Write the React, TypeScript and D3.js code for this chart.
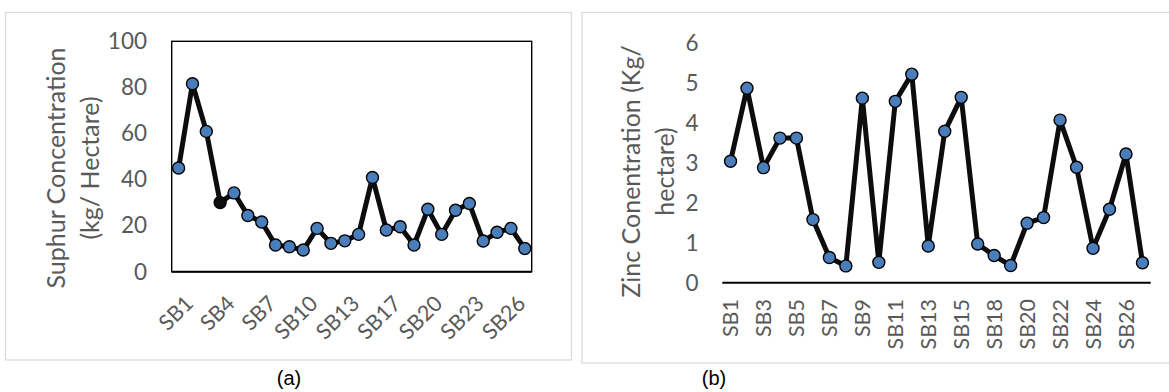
import { useMemo } from "react";
import { line, scaleBand, scaleLinear } from "d3";

const WIDTH = 1169;
const HEIGHT = 392;

const SITES = [
  "SB1", "SB2", "SB3", "SB4", "SB5", "SB6", "SB7", "SB8", "SB9", "SB10", "SB11", "SB12", "SB13",
  "SB14", "SB15", "SB17", "SB18", "SB19", "SB20", "SB21", "SB22", "SB23", "SB24", "SB25", "SB26", "SB27",
];

const SULPHUR = [
  45, 81.6, 60.9, 30, 34.2, 24.4, 21.6, 11.6, 10.8, 9.4, 18.8, 12.3, 13.4,
  16.2, 40.9, 18.1, 19.5, 11.6, 27.1, 16.2, 26.7, 29.6, 13.3, 17.1, 18.8, 10.1,
];

const ZINC = [
  3.04, 4.87, 2.88, 3.62, 3.62, 1.58, 0.63, 0.42, 4.62, 0.51, 4.54, 5.22, 0.92,
  3.79, 4.64, 0.97, 0.68, 0.43, 1.49, 1.63, 4.07, 2.89, 0.86, 1.84, 3.22, 0.5,
];

const SULPHUR_TICKS = [0, 20, 40, 60, 80, 100];
const ZINC_TICKS = [0, 1, 2, 3, 4, 5, 6];

const FONT = "Lato, 'Open Sans', sans-serif";
const GREY = "#595959";
const LINE_COLOR = "#0d0d0d";
const MARKER_FILL = "#4a7ebb";

export default function App() {
  const leftX = useMemo(() => scaleBand().domain(SITES).range([171.7, 531.7]), []);
  const leftY = useMemo(() => scaleLinear().domain([0, 100]).range([271.7, 41.3]), []);
  const rightX = useMemo(() => scaleBand().domain(SITES).range([722.3, 1150.7]), []);
  const rightY = useMemo(() => scaleLinear().domain([0, 6]).range([282.7, 43]), []);

  const leftCx = (s) => leftX(s) + leftX.bandwidth() / 2;
  const rightCx = (s) => rightX(s) + rightX.bandwidth() / 2;

  const leftPath = line()
    .x((d, i) => leftCx(SITES[i]))
    .y((d) => leftY(d))(SULPHUR);
  const rightPath = line()
    .x((d, i) => rightCx(SITES[i]))
    .y((d) => rightY(d))(ZINC);

  return (
    <div style={{ position: "fixed", left: 0, top: 0, width: WIDTH, height: HEIGHT, background: "#fff" }}>
      <svg width={WIDTH} height={HEIGHT} viewBox={`0 0 ${WIDTH} ${HEIGHT}`} style={{ display: "block" }}>
        {/* panel (a) */}
        <rect x={5.5} y={12.5} width={566} height={347.5} fill="none" stroke="#d9d9d9" strokeWidth={1.2} />
        <rect
          x={leftX.range()[0]}
          y={leftY(100)}
          width={leftX.range()[1] - leftX.range()[0]}
          height={leftY(0) - leftY(100)}
          fill="none"
          stroke="#000"
          strokeWidth={1.4}
        />
        <line x1={leftX.range()[0]} x2={leftX.range()[1]} y1={leftY(0)} y2={leftY(0)} stroke="#000" strokeWidth={2} />
        {SULPHUR_TICKS.map((t) => (
          <text key={t} x={147} y={leftY(t)} dy="0.35em" textAnchor="end" fontFamily={FONT} fontSize={22.5} fill={GREY}>
            {t}
          </text>
        ))}
        {SITES.map((s, i) =>
          i % 3 === 0 ? (
            <text
              key={s}
              transform={`translate(${leftCx(s) + 5},294) rotate(-45)`}
              dy="0.72em"
              textAnchor="end"
              fontFamily={FONT}
              fontSize={21.5}
              fill={GREY}
            >
              {s}
            </text>
          ) : null
        )}
        <g fontFamily={FONT} fontSize={25} fill={GREY} textAnchor="middle">
          <text transform="translate(56.7,168) rotate(-90)" dy="0.35em">Suphur Concentration</text>
          <text transform="translate(90.7,168) rotate(-90)" dy="0.35em">(kg/ Hectare)</text>
        </g>
        <path d={leftPath} fill="none" stroke={LINE_COLOR} strokeWidth={5} strokeLinejoin="round" />
        {SULPHUR.map((v, i) => (
          <circle
            key={i}
            cx={leftCx(SITES[i])}
            cy={leftY(v)}
            r={6}
            fill={i === 3 ? LINE_COLOR : MARKER_FILL}
            stroke="#000"
            strokeWidth={1.4}
          />
        ))}
        <text x={289} y={378} dy="0.35em" textAnchor="middle" fontFamily="'Liberation Sans', Arial, sans-serif" fontSize={20} fill="#000">
          (a)
        </text>

        {/* panel (b) */}
        <rect x={582} y={12.5} width={600} height={350.5} fill="none" stroke="#d9d9d9" strokeWidth={1.2} />
        <line x1={rightX.range()[0]} x2={rightX.range()[1]} y1={rightY(0)} y2={rightY(0)} stroke="#000" strokeWidth={2} />
        {ZINC_TICKS.map((t) => (
          <text key={t} x={698.5} y={rightY(t)} dy="0.35em" textAnchor="end" fontFamily={FONT} fontSize={22.5} fill={GREY}>
            {t}
          </text>
        ))}
        {SITES.map((s, i) =>
          i % 2 === 0 ? (
            <text
              key={s}
              transform={`translate(${rightCx(s)},299) rotate(-90)`}
              dy="0.35em"
              textAnchor="end"
              fontFamily={FONT}
              fontSize={21.5}
              fill={GREY}
            >
              {s}
            </text>
          ) : null
        )}
        <g fontFamily={FONT} fontSize={25} fill={GREY} textAnchor="middle">
          <text transform="translate(631.7,171.5) rotate(-90)" dy="0.35em">Zinc Conentration (Kg/</text>
          <text transform="translate(665,171.5) rotate(-90)" dy="0.35em">hectare)</text>
        </g>
        <path d={rightPath} fill="none" stroke={LINE_COLOR} strokeWidth={5} strokeLinejoin="round" />
        {ZINC.map((v, i) => (
          <circle key={i} cx={rightCx(SITES[i])} cy={rightY(v)} r={6} fill={MARKER_FILL} stroke="#000" strokeWidth={1.4} />
        ))}
        <text x={714} y={378} dy="0.35em" textAnchor="middle" fontFamily="'Liberation Sans', Arial, sans-serif" fontSize={20} fill="#000">
          (b)
        </text>
      </svg>
    </div>
  );
}
